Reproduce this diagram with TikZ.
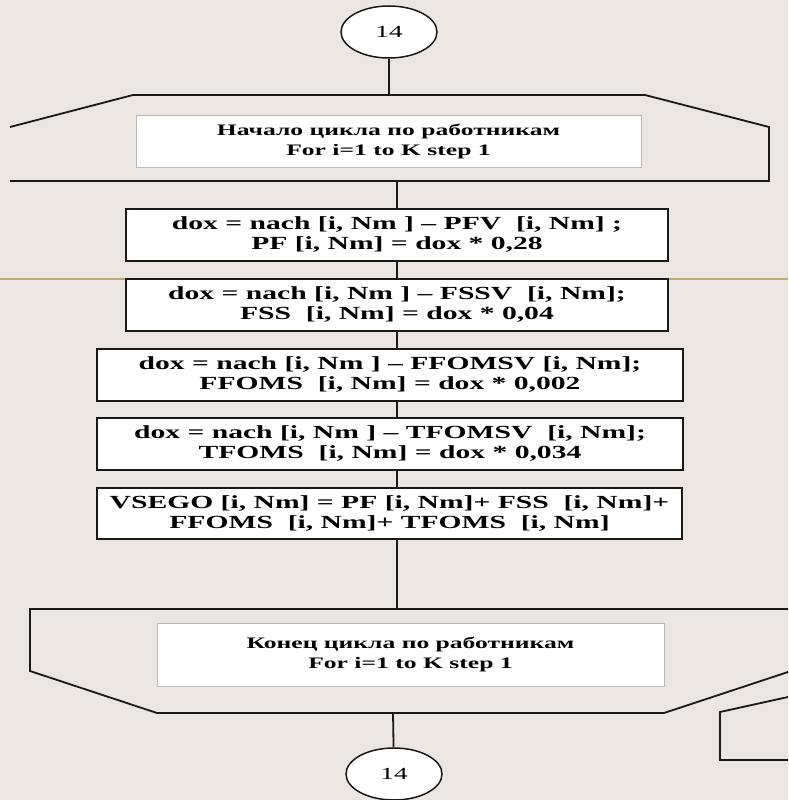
\documentclass[tikz,border=0pt]{standalone}
\usepackage{fontspec}
\setmainfont{Liberation Serif}
\newfontfamily\wideserif[FakeStretch=1.6]{Liberation Serif}
\usetikzlibrary{shapes.geometric}
\definecolor{paper}{RGB}{235,230,226}
\definecolor{rulecol}{RGB}{190,170,120}
\definecolor{ink}{RGB}{25,25,25}

\begin{document}
\begin{tikzpicture}[x=1pt, y=-1pt,
      conn/.style={draw=ink, line width=1.5pt, shape=ellipse, fill=white, minimum width=96pt, minimum height=52pt,
        font=\wideserif\fontsize{17}{18}\selectfont},
      procbox/.style={draw=ink, line width=1.6pt, fill=white, minimum height=52pt, align=center,
        font=\wideserif\bfseries\fontsize{18.5}{20}\selectfont},
      loopbox/.style={draw=gray!55, line width=0.6pt, fill=white, align=center,
        font=\wideserif\bfseries\fontsize{16}{20}\selectfont},
      link/.style={draw=ink, line width=1.8pt}]
    \useasboundingbox (0,0) rectangle (788,800);
    \fill[paper] (0,0) rectangle (788,800);
    \draw[rulecol, line width=1.4pt] (0,279) -- (788,279);

    % loop start
    \draw[link] (10,127) -- (133,95) -- (645,95) -- (769,127) -- (769,181) -- (10,181);
    \coordinate (starttop) at (389,95);
    \coordinate (startbot) at (397,181);
    \node[loopbox, minimum width=505pt, minimum height=52pt] (startin) at (388.5,141)
      {Начало цикла по работникам\\For i=1 to K step 1};

    % loop end
    \draw[link] (788,609) -- (30,609) -- (30,671) -- (157,713) -- (664,713) -- (788,672);
    \draw[link] (788,697) -- (720,712) -- (720,760) -- (788,760);
    \coordinate (endtop) at (397,609);
    \coordinate (endbot) at (393,713);
    \node[loopbox, minimum width=507pt, minimum height=63pt] (endin) at (410.5,654.5)
      {Конец цикла по работникам\\For i=1 to K step 1};

    % connectors 14
    \node[conn] (inconn) at (389,32) {14};
    \node[conn] (outconn) at (394,774) {14};

    % calculation blocks
    \node[procbox, minimum width=542pt] (pf) at (397,235)
      {dox = nach [i, Nm ] – PFV~ [i, Nm] ;\\PF [i, Nm] = dox * 0,28};
    \node[procbox, minimum width=542pt] (fss) at (397,305)
      {dox = nach [i, Nm ] – FSSV~ [i, Nm];\\FSS~ [i, Nm] = dox * 0,04};
    \node[procbox, minimum width=586pt] (ffoms) at (390,375)
      {dox = nach [i, Nm ] – FFOMSV [i, Nm];\\FFOMS~ [i, Nm] = dox * 0,002};
    \node[procbox, minimum width=586pt] (tfoms) at (390,444)
      {dox = nach [i, Nm ] – TFOMSV~ [i, Nm];\\TFOMS~ [i, Nm] = dox * 0,034};
    \node[procbox, minimum width=585pt, minimum height=51pt] (vsego) at (389.5,513.5)
      {VSEGO [i, Nm] = PF [i, Nm]+ FSS~ [i, Nm]+\\FFOMS~ [i, Nm]+ TFOMS~ [i, Nm]};

    \draw[link] (inconn) -- (starttop);
    \draw[link] (startbot) -- (pf);
    \draw[link] (pf) -- (fss);
    \draw[link] (fss.south) -- (fss.south |- ffoms.north);
    \draw[link] (ffoms.south -| fss) -- (tfoms.north -| fss);
    \draw[link] (tfoms.south -| fss) -- (vsego.north -| fss);
    \draw[link] (endtop |- vsego.south) -- (endtop);
    \draw[link] (endbot) -- (outconn);
  \end{tikzpicture}
\end{document}
